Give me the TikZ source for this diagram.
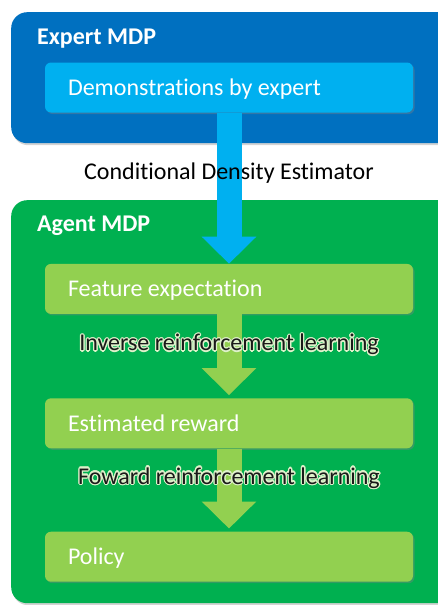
\documentclass[tikz,border=0pt]{standalone}
\usepackage{fontspec}
\setmainfont{Carlito}[Ligatures=NoCommon]
\usepackage{contour}
\usetikzlibrary{arrows.meta,shadows,positioning}

\definecolor{expertblue}{HTML}{0070C0}
\definecolor{demoblue}{HTML}{00B0F0}
\definecolor{agentgreen}{HTML}{00B050}
\definecolor{stepgreen}{HTML}{92D050}
\colorlet{glowc}{white!70!stepgreen}
\contourlength{1.2pt}

\begin{document}
\begin{tikzpicture}[x=1pt, y=-1pt, font=\fontsize{24}{28}\selectfont]
\tikzstyle{panel} = [rounded corners=16pt, minimum width=470pt, anchor=north west, drop shadow={opacity=0.35, shadow xshift=1pt, shadow yshift=-2pt}]
\tikzstyle{title} = [anchor=west, inner sep=0pt, text=white, font=\fontsize{24}{28}\selectfont\bfseries]
\tikzstyle{stage} = [rounded corners=6pt, minimum width=368pt, minimum height=50pt, text width=322pt, inner xsep=23pt, text height=16pt, text depth=0pt, align=flush left, text=white, drop shadow={opacity=0.4, shadow xshift=1.5pt, shadow yshift=-1.5pt}]
\tikzstyle{flow} = [line width=25pt, -{Triangle[width=53pt, length=27pt]}]
\clip (0,0) rectangle (438,605);

% expert side
\node (expert) [panel, fill=expertblue, minimum height=131pt] at (11,12) {};
\node (experttitle) [title] at (37,39) {Expert MDP};
\node (demo) [stage, fill=demoblue] at (229,87.5) {Demonstrations by expert};

% agent side
\node (agent) [panel, fill=agentgreen, minimum height=403pt] at (11,200) {};
\node (agenttitle) [title] at (37,226) {Agent MDP};
\node (feat) [stage, fill=stepgreen, below=151pt of demo] {Feature expectation};
\node (reward) [stage, fill=stepgreen, below=84pt of feat] {Estimated reward};
\node (policy) [stage, fill=stepgreen, below=83pt of reward] {Policy};

\draw [flow, demoblue] (demo) -- (feat)
  node (cde) [pos=0.4, text=black] {Conditional Density Estimator};
\draw [flow, stepgreen, shorten >=3pt] (feat) -- (reward)
  node (irl) [pos=0.37, text=black!90] {\contour{glowc}{Inverse reinforcement learning}};
\draw [flow, stepgreen, shorten >=3pt] (reward) -- (policy)
  node (frl) [pos=0.36, text=black!90] {\contour{glowc}{Foward reinforcement learning}};
\end{tikzpicture}
\end{document}
